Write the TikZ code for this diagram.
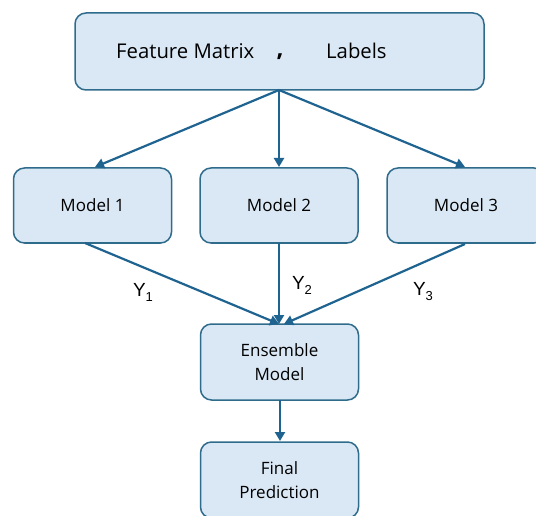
\documentclass[tikz,border=0pt]{standalone}
\usepackage{fontspec}
\setmainfont{Open Sans}
\newfontfamily\labelfont{Liberation Sans}
\usetikzlibrary{arrows.meta}
\definecolor{boxfill}{HTML}{DAE8F5}
\definecolor{boxline}{HTML}{2F6C8C}
\definecolor{arrowc}{HTML}{1F6391}
\tikzset{
  stagebox/.style={draw=boxline, fill=boxfill, line width=1.5pt, rounded corners=11pt,
    minimum width=158pt, minimum height=75pt, align=center, font=\fontsize{17}{24}\selectfont},
  flow/.style={draw=arrowc, line width=2.2pt, -{Triangle[length=9pt,width=10pt]}},
  ylabel/.style={font=\labelfont\fontsize{19}{20}\selectfont, inner sep=0pt}
}
\newcommand{\ysub}[1]{Y\raisebox{-5pt}{\fontsize{13}{13}\selectfont #1}}
\begin{document}
\begin{tikzpicture}[x=1pt,y=1pt]
\useasboundingbox (0,0) rectangle (536,-516);
\clip (0,0) rectangle (536,-516);

% input box
\node[stagebox, minimum width=409pt, minimum height=77pt] (input) at (279.5,-51.5) {};
\node[font=\fontsize{20.3}{22}\selectfont, anchor=west, inner sep=0pt] (feat) at (116,-51) {Feature Matrix};
\node[font=\fontsize{24}{24}\bfseries, inner sep=0pt] (comma) at (280,-57) {,};
\node[font=\fontsize{20.3}{22}\selectfont, anchor=west, inner sep=0pt] (lab) at (326,-51) {Labels};

% base models
\node[stagebox] (m1) at (92.5,-205.5) {Model 1};
\node[stagebox] (m2) at (279,-205.5) {Model 2};
\node[stagebox] (m3) at (466,-205.5) {Model 3};

% combiner and output
\node[stagebox, minimum height=76pt] (ens) at (279.5,-362) {Ensemble\\Model};
\node[stagebox, minimum height=76pt] (fin) at (279.5,-480) {Final\\Prediction};

% fan-out from the input
\coordinate (src) at (279,-90);
\draw[flow] (src) -- (95,-167);
\draw[flow] (src) -- (279,-167);
\draw[flow] (src) -- (465,-167);

% model outputs into the ensemble
\coordinate (sink) at (279,-324);
\draw[flow] (85,-243) -- (sink);
\draw[flow] (279,-243) -- (sink);
\draw[flow] (465,-244) -- (284,-324);
\coordinate (ensout) at (280,-400);
\coordinate (finin) at (280,-441);
\draw[flow] (ensout) -- (finin);

\node[ylabel] (y1) at (143,-292) {\ysub{1}};
\node[ylabel] (y2) at (302,-285) {\ysub{2}};
\node[ylabel] (y3) at (423,-292) {\ysub{3}};
\end{tikzpicture}
\end{document}
